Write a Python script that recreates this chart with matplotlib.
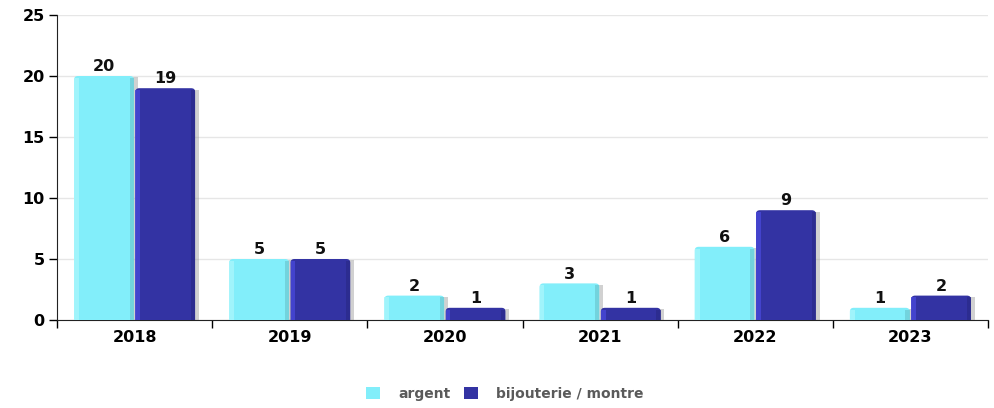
import matplotlib
matplotlib.use("Agg")
import matplotlib.pyplot as plt
import numpy as np
from matplotlib.patches import FancyBboxPatch, Rectangle

years = ["2018", "2019", "2020", "2021", "2022", "2023"]
argent = [20, 5, 2, 3, 6, 1]
bijouterie = [19, 5, 1, 1, 9, 2]
series_names = ["argent", "bijouterie / montre"]
colors = ["#82eefa", "#3333a3"]
edge_light = ["#a8f6fc", "#4848d8"]
edge_dark = ["#6cc8d2", "#2a2a88"]

fig = plt.figure(figsize=(9.94, 4.08), dpi=100)
ax = fig.add_axes([57 / 994, 88 / 408, 931 / 994, 305 / 408])

x = np.arange(len(years))
w = 0.385
offsets = [-w / 2 - 0.005, w / 2 + 0.005]

for vals, off, col, lite, dark in zip([argent, bijouterie], offsets, colors, edge_light, edge_dark):
    for xi, v in zip(x, vals):
        left = xi + off - w / 2
        # drop shadow
        ax.add_patch(Rectangle((left + 0.025, 0), w, v - 0.12, facecolor="#9a9a9a",
                               alpha=0.45, edgecolor="none", zorder=2))
        # bar body with rounded top
        ax.add_patch(FancyBboxPatch((left, -0.5), w, v + 0.5,
                                    boxstyle="round,pad=0,rounding_size=0.025",
                                    mutation_aspect=12,
                                    facecolor=col, edgecolor="none", zorder=3))
        # lighter left and darker right strips
        ax.add_patch(Rectangle((left, 0), w * 0.08, max(v - 0.15, 0), facecolor=lite,
                               edgecolor="none", zorder=4, alpha=0.8))
        ax.add_patch(Rectangle((left + w * 0.93, 0), w * 0.07, max(v - 0.15, 0), facecolor=dark,
                               edgecolor="none", zorder=4, alpha=0.7))
        ax.text(xi + off, v + 0.15, str(v), ha="center", va="bottom",
                fontsize=11.5, fontweight="bold", color="#111111", zorder=5)

ax.set_xlim(-0.5, len(years) - 0.5)
ax.set_ylim(0, 25)
ax.set_yticks([0, 5, 10, 15, 20, 25])
ax.set_yticklabels(["0", "5", "10", "15", "20", "25"], fontsize=11.5, fontweight="bold")
ax.set_xticks(x)
ax.set_xticklabels(years, fontsize=11.5, fontweight="bold")
ax.set_xticks(np.arange(-0.5, len(years), 1.0), minor=True)
ax.tick_params(axis="x", which="major", length=0, pad=7)
ax.tick_params(axis="x", which="minor", length=6, width=1, direction="out")
ax.tick_params(axis="y", length=6, width=1, direction="out", pad=3)
ax.grid(axis="y", color="#e6e6e6", linewidth=1, zorder=0)
ax.set_axisbelow(True)
for s in ["top", "right"]:
    ax.spines[s].set_visible(False)
ax.spines["left"].set_color("#222222")
ax.spines["bottom"].set_color("#222222")

handles = [Rectangle((0, 0), 1, 1, facecolor=c, edgecolor="none") for c in colors]
fig.legend(handles, series_names, loc="center", bbox_to_anchor=(505 / 994, 1 - 394 / 408),
           ncol=2, frameon=False, handlelength=1.0, handleheight=1.0, handletextpad=1.3,
           columnspacing=1.0, prop={"size": 10, "weight": "bold"}, labelcolor="#5a5a5a")

fig.savefig("out.png", dpi=100)
